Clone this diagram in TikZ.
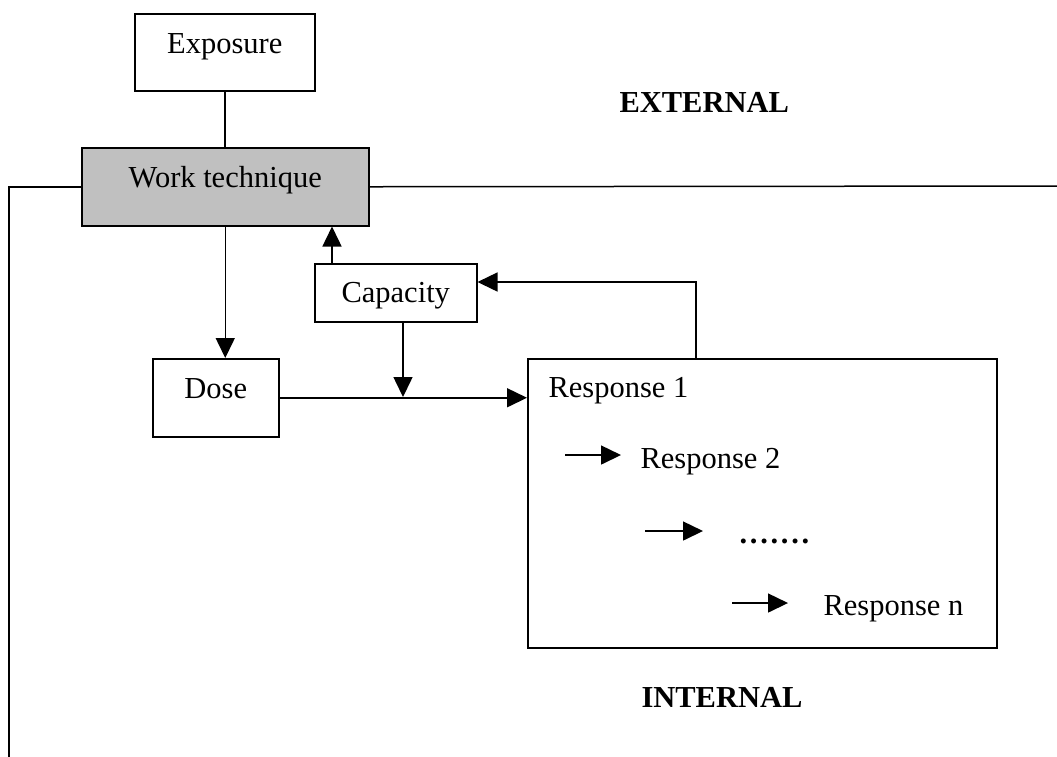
\documentclass[tikz,border=0pt]{standalone}
\usepackage{fontspec}
\setmainfont{Liberation Serif}
\usepackage{tikz}
\usetikzlibrary{arrows.meta, positioning}
\definecolor{techgray}{RGB}{192,192,192}

\begin{document}
\begin{tikzpicture}[x=0.4pt, y=-0.4pt, font=\fontsize{12.2}{14.6}\selectfont,
    box/.style={draw, line width=0.6pt, inner sep=0pt, anchor=north west,
                text height=16pt, text depth=15.2pt},
    arr/.style={-{Triangle[length=8pt, width=7.6pt]}, line width=0.6pt},
    txt/.style={inner sep=0pt, anchor=base west}]
  \useasboundingbox (0,0) rectangle (1057,756);

  \node[box, minimum width=72pt, text depth=14.8pt] (exposure) at (134,13) {Exposure};
  \node[box, minimum width=114.8pt, fill=techgray] (work) at (81,147) {Work technique};
  \node[box, minimum width=64.8pt, text height=15.6pt, text depth=7.6pt] (capacity) at (314,263) {Capacity};
  \node[box, minimum width=50.4pt] (dose) at (152,358) {Dose};
  \node[draw, line width=0.6pt, inner sep=0pt, anchor=north west,
        minimum width=187.6pt, minimum height=115.6pt] (resp) at (527,358) {};

  \node[txt] (r1) at (548,397) {Response 1};
  \node[txt] (r2) at (640,468) {Response 2};
  \node[txt] (dots) at (739,543) {\textbf{\addfontfeature{LetterSpace=9}.......}};
  \node[txt] (rn) at (823,615) {Response n};
  \node[txt] (external) at (619,112) {\textbf{EXTERNAL}};
  \node[txt] (internal) at (641,707) {\textbf{INTERNAL}};

  % frame between outside and inside
  \coordinate (frameleft) at (9,760);
  \coordinate (frameright) at (1062,186);
  \draw[line width=0.6pt] (work.west) -- (work.west -| frameleft) -- (frameleft);
  \draw[line width=0.6pt] (work.east) -- (frameright);

  \coordinate (join) at (403,397);
  \coordinate (up) at (332,263);
  \coordinate (fb) at (696,282);
  \draw[line width=0.6pt] (exposure.south) -- (exposure.south |- work.north);
  \draw[arr] (work.south) -- (work.south |- dose.north);
  \draw[arr] (up |- capacity.north) -- (up |- work.south);
  \draw[arr] (dose.east) -- (dose.east -| resp.west);
  \draw[arr] (capacity.south -| join) -- (join);
  \draw[arr] (fb |- resp.north) -- (fb) -- (fb -| capacity.east);

  \coordinate (t2) at (565,455);
  \coordinate (t3) at (645,531);
  \coordinate (tn) at (732,603);
  \draw[arr, shorten >=7.6pt] (t2) -- (t2 -| r2.west);
  \draw[arr, shorten >=14.4pt] (t3) -- (t3 -| dots.west);
  \draw[arr, shorten >=14pt] (tn) -- (tn -| rn.west);
\end{tikzpicture}
\end{document}
